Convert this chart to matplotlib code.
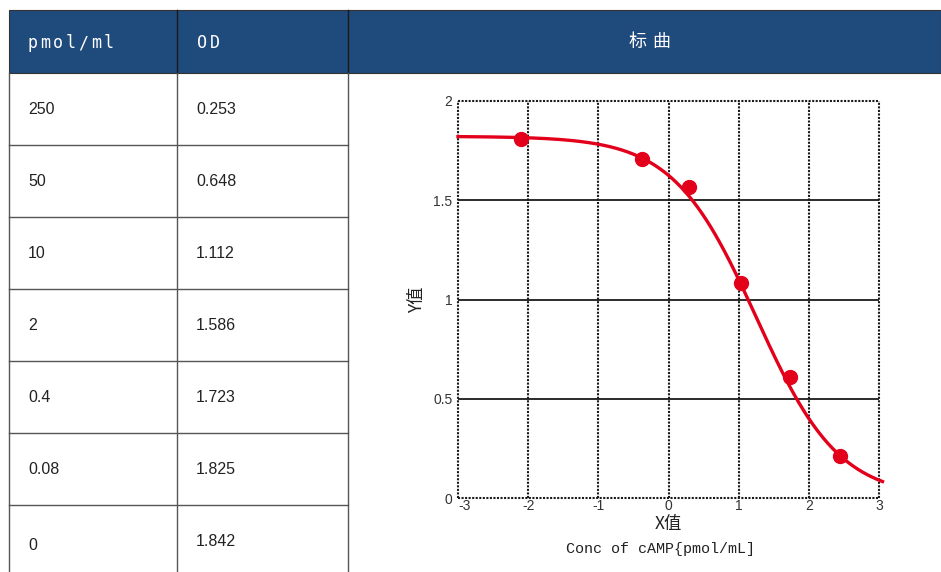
import numpy as np
import matplotlib
matplotlib.use("Agg")
import matplotlib.pyplot as plt

# Table contents
conc_labels = ["250", "50", "10", "2", "0.4", "0.08", "0"]
od_labels = ["0.253", "0.648", "1.112", "1.586", "1.723", "1.825", "1.842"]
header_labels = ["pmol/ml", "OD", "标曲"]

# Standard-curve points (log concentration, OD)
x_pts = [-2.10, -0.38, 0.29, 1.03, 1.73, 2.44]
y_pts = [1.809, 1.708, 1.567, 1.083, 0.610, 0.212]

# Four-parameter logistic fit of the standard curve
fit_top, fit_bottom, fit_x0, fit_slope = 1.822, 0.0, 1.25, 1.69

x_ticks = [-3, -2, -1, 0, 1, 2, 3]
y_ticks = [0, 0.5, 1, 1.5, 2]
y_ticklabels = ["0", "0.5", "1", "1.5", "2"]

W, H = 941, 572
fig = plt.figure(figsize=(W / 100, H / 100), dpi=100)
bg = fig.add_axes([0, 0, 1, 1])
bg.set_xlim(0, W)
bg.set_ylim(H, 0)
bg.axis("off")


def spaced_text(axis, x, y, s, pitch, **kw):
    """Draw a string one character at a time with a fixed pitch."""
    for i, ch in enumerate(s):
        axis.text(x + i * pitch, y, ch, ha="center", va="center", **kw)


header_col = "#1f4a7c"
line_col = "#555555"
left, c1, c2, right = 9, 177, 348, 941
top, head_bot = 10, 73
row_h = 72

# Header band
bg.add_patch(plt.Rectangle((left, top), right - left, head_bot - top,
                           facecolor=header_col, edgecolor="#333333", lw=0.8))
bg.plot([c1, c1], [top, head_bot], color="#1a1a1a", lw=1.0)
bg.plot([c2, c2], [top, head_bot], color="#1a1a1a", lw=1.0)
hdr_kw = dict(color="white", fontsize=12, family="DejaVu Sans Mono")
spaced_text(bg, 33, 43, header_labels[0], 12.6, **hdr_kw)
spaced_text(bg, 202, 43, header_labels[1], 13.0, **hdr_kw)
spaced_text(bg, 638, 42, header_labels[2], 23,
            color="white", fontsize=13, family=["Noto Sans CJK SC", "DejaVu Sans"])

# Table body
bg.plot([left, left], [head_bot, H], color=line_col, lw=1.0)
bg.plot([c1, c1], [head_bot, H], color=line_col, lw=1.0)
bg.plot([c2, c2], [head_bot, H], color=line_col, lw=1.0)
for i in range(1, len(conc_labels)):
    yy = head_bot + i * row_h
    bg.plot([left, c2], [yy, yy], color=line_col, lw=1.0)
for i, (c, od) in enumerate(zip(conc_labels, od_labels)):
    yc = head_bot + i * row_h + row_h / 2
    yc_od = yc
    if i == len(conc_labels) - 1:
        yc, yc_od = 545, 541
    bg.text(28, yc, c, fontsize=11.5, family="Liberation Sans",
            va="center", ha="left", color="#222222")
    bg.text(196, yc_od, od, fontsize=11.5, family="Liberation Sans",
            va="center", ha="left", color="#222222")

# Standard curve plot
ax_l, ax_r, ax_t, ax_b = 458, 879, 101, 498
ax = fig.add_axes([ax_l / W, 1 - ax_b / H, (ax_r - ax_l) / W, (ax_b - ax_t) / H])
ax.set_xlim(-3, 3)
ax.set_ylim(0, 2)
ax.patch.set_alpha(0)
for s in ax.spines.values():
    s.set_visible(False)

dot = (0, (1, 0.7))
for xv in x_ticks:
    ax.axvline(xv, color="#1a1a1a", lw=1.5, ls=dot, clip_on=False, zorder=1)
ax.axhline(0, color="#1a1a1a", lw=1.5, ls=dot, clip_on=False, zorder=1)
ax.axhline(2, color="#1a1a1a", lw=1.5, ls=dot, clip_on=False, zorder=1)
for yv in [0.5, 1, 1.5]:
    ax.axhline(yv, color="#1a1a1a", lw=1.3, zorder=1)

xs = np.linspace(-3, 3.05, 300)
ys = fit_bottom + (fit_top - fit_bottom) / (1 + np.exp(fit_slope * (xs - fit_x0)))
ax.plot(xs, ys, color="#e3001b", lw=2.4, clip_on=False, zorder=3)
ax.plot(x_pts, y_pts, "o", color="#e3001b", ms=10, zorder=4)

ax.set_xticks(x_ticks)
ax.set_yticks(y_ticks)
ax.set_xticklabels([str(v) for v in x_ticks])
ax.set_yticklabels(y_ticklabels)
ax.tick_params(length=0, labelsize=10, colors="#333333")
ax.tick_params(axis="x", pad=1)
ax.tick_params(axis="y", pad=4)
for t in ax.get_xticklabels() + ax.get_yticklabels():
    t.set_family("Liberation Sans")
ax.get_xticklabels()[0].set_horizontalalignment("left")

ax.set_xlabel("X值", family=["Noto Sans CJK SC", "DejaVu Sans"], fontsize=12.5,
              labelpad=1, color="#222222")
ax.set_ylabel("Y值", family=["Noto Sans CJK SC", "DejaVu Sans"], fontsize=12.5,
              labelpad=5, color="#222222")
bg.text(661, 549, "Conc of cAMP{pmol/mL]", fontsize=10.8, family="Liberation Mono",
        va="center", ha="center", color="#222222")

fig.savefig("out.png", dpi=100)
